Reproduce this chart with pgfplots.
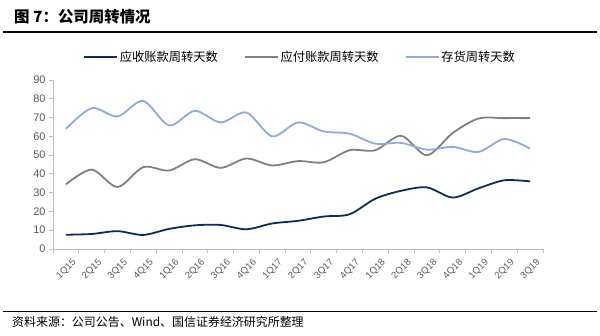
\documentclass[border=0pt]{standalone}
\usepackage{fontspec}
\setmainfont{Liberation Sans}
\newfontfamily\cjk{Noto Sans CJK SC}
\usepackage{pgfplots}
\pgfplotsset{compat=1.18}
\definecolor{navyc}{HTML}{0B2D5B}
\definecolor{grayc}{HTML}{808080}
\definecolor{lblue}{HTML}{8FAADC}
\definecolor{axgray}{HTML}{BFBFBF}
\definecolor{tickgray}{HTML}{595959}
\begin{document}
\begin{tikzpicture}
\path[use as bounding box] (0bp,0bp) rectangle (600bp,336bp);
\node[anchor=west,inner sep=0pt] at (14bp,319bp) {\cjk\bfseries\fontsize{15.5}{18}\selectfont 图 7：公司周转情况};
\draw[line width=1.5bp] (3bp,304bp) -- (597bp,304bp);
\draw[line width=0.8bp] (3bp,25bp) -- (597bp,25bp);
\node[anchor=west,inner sep=0pt] at (12bp,14bp) {\cjk\fontsize{12}{14}\selectfont 资料来源：公司公告、Wind、国信证券经济研究所整理};
\begin{axis}[
  at={(53bp,87bp)}, anchor=south west,
  scale only axis, width=490bp, height=169bp,
  xmin=-0.5, xmax=18.5, ymin=0, ymax=90,
  axis lines*=left,
  axis line style={draw=axgray, line width=0.8bp},
  tick align=outside,
  ytick={0,10,...,90},
  xtick={0,...,18},
  xticklabels={1Q15,2Q15,3Q15,4Q15,1Q16,2Q16,3Q16,4Q16,1Q17,2Q17,3Q17,4Q17,1Q18,2Q18,3Q18,4Q18,1Q19,2Q19,3Q19},
  minor xtick={-0.5,0.5,...,18.5},
  major x tick style={draw=none},
  minor x tick style={draw=axgray, line width=0.8bp},
  major y tick style={draw=axgray, line width=0.8bp},
  major tick length=4bp, minor tick length=4bp,
  x tick label style={rotate=45, anchor=north east, font=\fontsize{9.5}{11}\selectfont, text=tickgray, inner sep=0.5bp, xshift=1bp, yshift=-7bp},
  y tick label style={font=\fontsize{11}{13}\selectfont, text=tickgray, /pgf/number format/assume math mode=true},
  legend columns=3,
  legend style={draw=none, fill=none, at={(0.504,1.136)}, anchor=center,
    font=\cjk\fontsize{12.3}{14}\selectfont, inner sep=0pt,
    /tikz/every even column/.append style={column sep=24bp}},
  legend image code/.code={\draw[#1] (0bp,0bp) -- (33bp,0bp);},
  every axis plot/.append style={line width=1.8bp, smooth, tension=0.5, mark=none},
]
\addplot[navyc] coordinates {(0,7.6) (1,8.0) (2,9.5) (3,7.5) (4,10.7) (5,12.6) (6,12.8) (7,10.5) (8,13.6) (9,15.0) (10,17.3) (11,18.5) (12,26.8) (13,31.0) (14,32.8) (15,27.4) (16,32.3) (17,36.6) (18,36.0)};
\addlegendentry{应收账款周转天数}
\addplot[grayc] coordinates {(0,34.4) (1,42.3) (2,33.0) (3,43.6) (4,41.8) (5,47.8) (6,43.2) (7,48.2) (8,44.5) (9,46.8) (10,46.2) (11,52.6) (12,52.6) (13,60.3) (14,49.9) (15,61.8) (16,69.5) (17,69.7) (18,69.7)};
\addlegendentry{应付账款周转天数}
\addplot[lblue] coordinates {(0,64.0) (1,75.0) (2,70.6) (3,78.9) (4,65.8) (5,73.6) (6,67.4) (7,72.7) (8,60.0) (9,67.4) (10,62.6) (11,61.4) (12,56.1) (13,56.5) (14,52.9) (15,54.4) (16,51.7) (17,58.6) (18,53.5)};
\addlegendentry{存货周转天数}
\end{axis}
\end{tikzpicture}
\end{document}
